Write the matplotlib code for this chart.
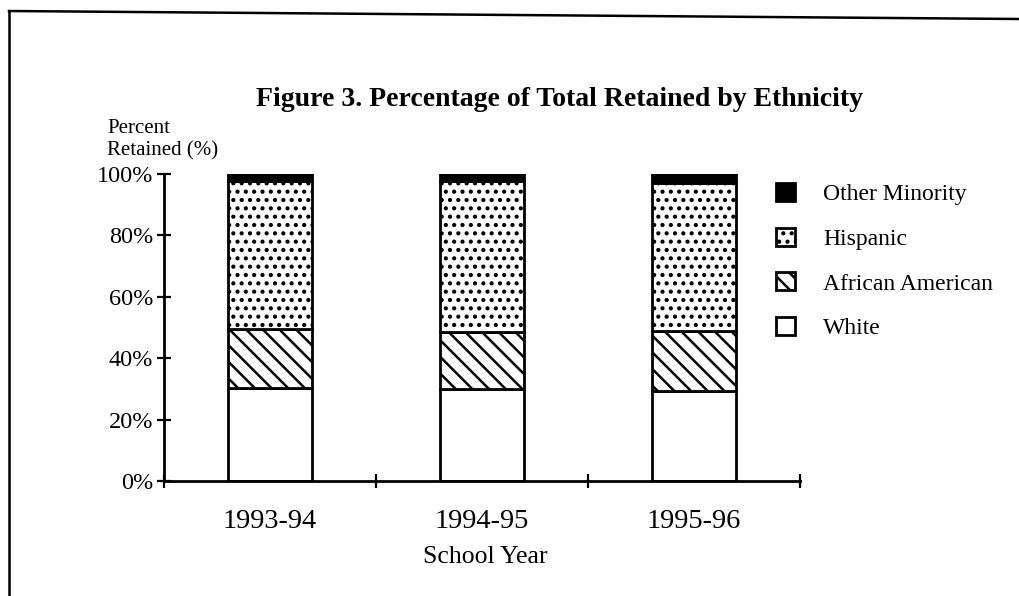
import matplotlib
matplotlib.use("Agg")
import matplotlib.pyplot as plt
from matplotlib.lines import Line2D
import numpy as np

years = ["1993-94", "1994-95", "1995-96"]
white = [30.2, 29.9, 29.2]
african_american = [19.2, 18.5, 19.5]
hispanic = [48.3, 49.3, 48.3]
other_minority = [2.3, 2.3, 3.0]
y_ticks = [0, 20, 40, 60, 80, 100]
y_tick_labels = ["0%", "20%", "40%", "60%", "80%", "100%"]

plt.rcParams['font.family'] = ['Liberation Serif', 'DejaVu Serif']
plt.rcParams['hatch.linewidth'] = 1.8

fig = plt.figure(figsize=(10.19, 5.96), dpi=100)
ax = fig.add_axes([164/1019, 1-481/596, (800-164)/1019, (481-174)/596])

x = np.arange(len(years))
w = 0.4
lw = 2.0
b1 = ax.bar(x, white, w, color='white', edgecolor='black', linewidth=lw, label='White')
bot = np.array(white)
b2 = ax.bar(x, african_american, w, bottom=bot, color='white', edgecolor='black',
            linewidth=lw, hatch='\\\\', label='African American')
bot = bot + np.array(african_american)
b3 = ax.bar(x, hispanic, w, bottom=bot, color='white', edgecolor='black',
            linewidth=lw, hatch='..', label='Hispanic')
bot = bot + np.array(hispanic)
b4 = ax.bar(x, other_minority, w, bottom=bot, color='black', edgecolor='black',
            linewidth=lw, label='Other Minority')

ax.set_xlim(-0.5, 2.5)
ax.set_ylim(0, 100)
for s in ['top', 'right']:
    ax.spines[s].set_visible(False)
for s in ['left', 'bottom']:
    ax.spines[s].set_linewidth(2.0)

ax.set_yticks(y_ticks)
ax.set_yticklabels(y_tick_labels, fontsize=17.5)
ax.tick_params(axis='y', direction='inout', length=10, width=1.6, pad=3)

ax.set_xticks([-0.5, 0.5, 1.5, 2.5])
ax.set_xticklabels([])
ax.tick_params(axis='x', which='major', direction='inout', length=10, width=1.6)
ax.set_xticks(x, minor=True)
ax.set_xticklabels(years, minor=True, fontsize=20.5)
ax.tick_params(axis='x', which='minor', length=0, pad=20)

fig.text(485/1019, 1-557/596, "School Year", ha='center', va='center', fontsize=18.5)
fig.text(560/1019, 1-99/596, "Figure 3. Percentage of Total Retained by Ethnicity",
         ha='center', va='center', fontsize=20, fontweight='bold')
fig.text(107/1019, 1-140/596, "Percent\nRetained (%)", ha='left', va='center',
         fontsize=15, linespacing=1.2)

handles = [b4, b3, b2, b1]
labels = ['Other Minority', 'Hispanic', 'African American', 'White']
leg = fig.legend(handles, labels, loc='upper left', bbox_to_anchor=(776/1019, 1-183/596),
                 frameon=False, fontsize=17, handlelength=0.8, handleheight=0.8,
                 labelspacing=0.95, handletextpad=1.2, borderpad=0, borderaxespad=0)

fig.add_artist(Line2D([9/1019, 9/1019], [0, 1-11/596], color='black', linewidth=1.8,
                      transform=fig.transFigure))
fig.add_artist(Line2D([9/1019, 1], [1-11/596, 1-19/596], color='black', linewidth=1.8,
                      transform=fig.transFigure))

fig.savefig("out.png", dpi=100, facecolor='white')
